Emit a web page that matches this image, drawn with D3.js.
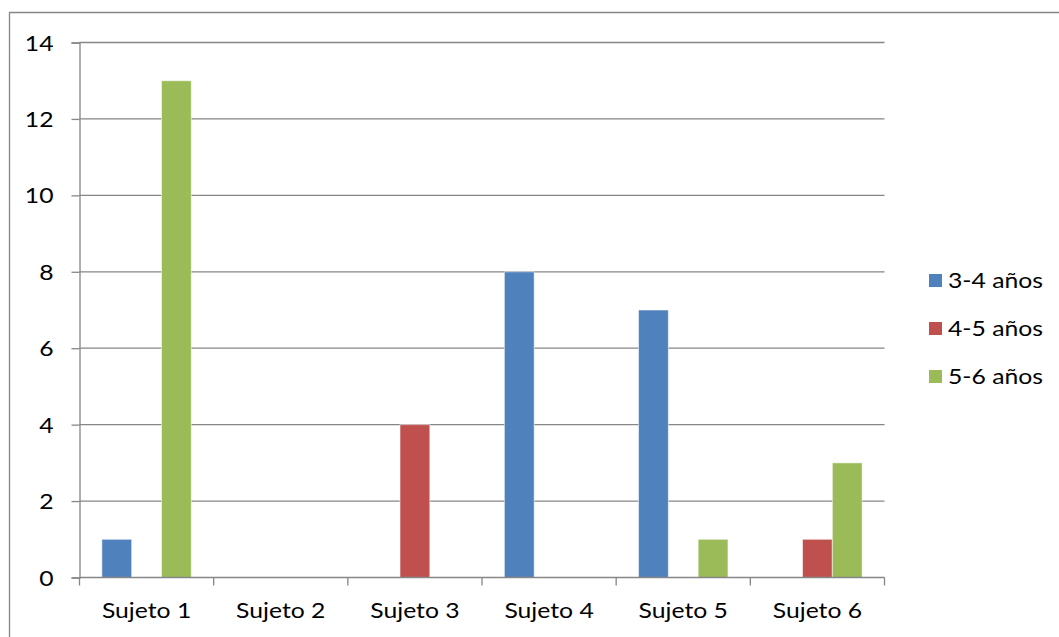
<!DOCTYPE html>
<html>
<head>
<meta charset="utf-8">
<script src="https://cdn.jsdelivr.net/npm/d3@7"></script>
<style>
  html, body { margin: 0; padding: 0; background: #fff; }
  svg { display: block; }
  text { font-family: Lato, "Open Sans", sans-serif; fill: #000; }
</style>
</head>
<body>
<svg id="chart" width="1059" height="637"></svg>
<script>
// Chart data
const categories = ["Sujeto 1", "Sujeto 2", "Sujeto 3", "Sujeto 4", "Sujeto 5", "Sujeto 6"];
const seriesNames = ["3-4 años", "4-5 años", "5-6 años"];
const serie34 = [1, 0, 0, 8, 7, 0];
const serie45 = [0, 0, 4, 0, 0, 1];
const serie56 = [13, 0, 0, 0, 1, 3];
const yTicks = [0, 2, 4, 6, 8, 10, 12, 14];
const seriesColors = ["#4F81BD", "#C0504D", "#9BBB59"];

const seriesValues = [serie34, serie45, serie56];

const svg = d3.select("#chart");
const W = 1059, H = 637;
const plot = { left: 79.5, right: 884.5, top: 42.5, bottom: 577.5 };
const gridColor = "#868686";
const fontSize = 21.5;
const textScaleX = 1.15;

// Outer chart frame (only top and left edges fall inside the view)
svg.append("path")
  .attr("d", `M9.5,${H} V12.5 H${W}`)
  .attr("fill", "none")
  .attr("stroke", gridColor)
  .attr("stroke-width", 1.3);

const y = d3.scaleLinear().domain([0, 14]).range([plot.bottom, plot.top]);
const x0 = d3.scaleBand().domain(categories).range([plot.left, plot.right]).padding(0);
const bw = x0.bandwidth();
const barW = bw / 4.5; // gap width 150%
const x1 = d3.scaleBand().domain(seriesNames).range([0.75 * barW, 3.75 * barW]).padding(0);

// Horizontal gridlines
svg.append("g")
  .selectAll("line")
  .data(yTicks.filter(d => d > 0))
  .join("line")
  .attr("x1", plot.left).attr("x2", plot.right)
  .attr("y1", d => y(d)).attr("y2", d => y(d))
  .attr("stroke", gridColor).attr("stroke-width", 1.3);

// Y axis
const yAxis = d3.axisLeft(y).tickValues(yTicks).tickSize(8).tickPadding(18);
const gy = svg.append("g").attr("transform", `translate(${plot.left},0)`).call(yAxis);
gy.select(".domain").attr("stroke", gridColor).attr("stroke-width", 1.3);
gy.selectAll(".tick line").attr("stroke", gridColor).attr("stroke-width", 1.3);
gy.selectAll(".tick text")
  .attr("font-size", fontSize)
  .attr("font-family", "Lato, sans-serif")
  .attr("fill", "#000")
  .attr("dy", "0.35em")
  .attr("transform", function () {
    const xx = +d3.select(this).attr("x");
    return `translate(${xx},0) scale(${textScaleX},1) translate(${-xx},0)`;
  });

// Bars
const groups = svg.append("g")
  .selectAll("g")
  .data(categories)
  .join("g")
  .attr("transform", d => `translate(${x0(d)},0)`);

groups.selectAll("rect")
  .data((c, i) => seriesNames.map((s, k) => ({ s, k, v: seriesValues[k][i] })).filter(d => d.v > 0))
  .join("rect")
  .attr("x", d => x1(d.s))
  .attr("width", x1.bandwidth())
  .attr("y", d => y(d.v))
  .attr("height", d => y(0) - y(d.v))
  .attr("fill", d => seriesColors[d.k])
  .attr("stroke", "rgba(255,255,255,0.55)")
  .attr("stroke-width", 1);

// X axis with ticks at category boundaries
const boundaries = d3.range(categories.length + 1).map(i => plot.left + i * bw);
svg.append("line")
  .attr("x1", plot.left).attr("x2", plot.right)
  .attr("y1", plot.bottom).attr("y2", plot.bottom)
  .attr("stroke", gridColor).attr("stroke-width", 1.3);
svg.append("g")
  .selectAll("line")
  .data(boundaries)
  .join("line")
  .attr("x1", d => d).attr("x2", d => d)
  .attr("y1", plot.bottom).attr("y2", plot.bottom + 8)
  .attr("stroke", gridColor).attr("stroke-width", 1.3);

svg.append("g")
  .selectAll("text")
  .data(categories)
  .join("text")
  .attr("transform", d => `translate(${x0(d) + bw / 2},618) scale(${textScaleX},1)`)
  .attr("text-anchor", "middle")
  .attr("font-size", fontSize)
  .text(d => d);

// Legend
const legend = svg.append("g")
  .selectAll("g")
  .data(seriesNames)
  .join("g")
  .attr("transform", (d, i) => `translate(929,${280.5 + i * 48})`);
legend.append("rect")
  .attr("x", 0).attr("y", -6.5)
  .attr("width", 13).attr("height", 13)
  .attr("fill", (d, i) => seriesColors[i]);
legend.append("text")
  .attr("transform", `translate(19,7.5) scale(${textScaleX},1)`)
  .attr("font-size", fontSize)
  .text(d => d);
</script>
</body>
</html>
